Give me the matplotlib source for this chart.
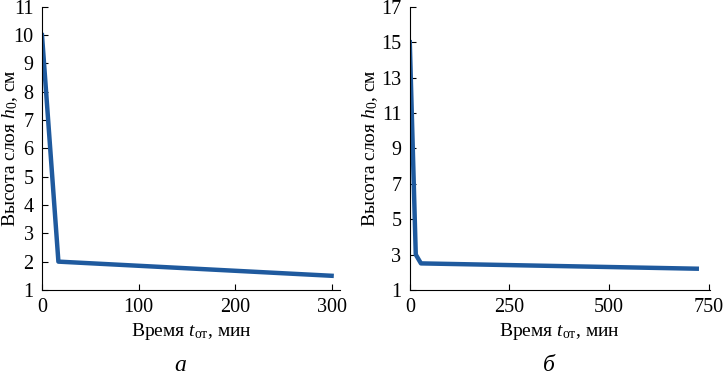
import matplotlib
matplotlib.use("Agg")
import matplotlib.pyplot as plt

# panel a
time_a = [0, 17, 300]
height_a = [10.0, 2.0, 1.5]
# panel b
time_b = [0, 15, 28, 720]
height_b = [15.0, 3.0, 2.5, 2.2]

xticks_a = [0, 100, 200, 300]
yticks_a = list(range(1, 12))
xticks_b = [0, 250, 500, 750]
yticks_b = list(range(1, 18, 2))

plt.rcParams['font.family'] = ['Liberation Serif', 'DejaVu Serif']
plt.rcParams['mathtext.fontset'] = 'custom'
plt.rcParams['mathtext.rm'] = 'Liberation Serif'
plt.rcParams['mathtext.it'] = 'Liberation Serif:italic'

LINE = '#1f5a9e'

fig = plt.figure(figsize=(7.24, 3.79), dpi=100)
ax1 = fig.add_axes([0.058, 0.235, 0.412, 0.747])
ax2 = fig.add_axes([0.566, 0.235, 0.414, 0.747])


def style(ax, xt, yt, xmax, ymin, ymax, ylab_x):
    ax.set_xlim(0, xmax)
    ax.set_ylim(ymin, ymax)
    ax.set_xticks(xt)
    ax.set_yticks(yt)
    ax.spines['top'].set_visible(False)
    ax.spines['right'].set_visible(False)
    ax.tick_params(direction='in', length=4, width=0.8, labelsize=14.5, pad=6)
    ax.set_xlabel(r'Время $t_{\mathrm{от}}$, мин', fontsize=14)
    ax.xaxis.set_label_coords(0.5, -0.11)
    ax.set_ylabel(r'Высота слоя $h_0$, см', fontsize=14)
    ax.yaxis.set_label_coords(ylab_x, 0.5)


ax1.plot(time_a, height_a, color=LINE, lw=3.2, solid_joinstyle='round')
style(ax1, xticks_a, yticks_a, 309, 1, 11, -0.074)

ax2.plot(time_b, height_b, color=LINE, lw=3.2, solid_joinstyle='round')
style(ax2, xticks_b, yticks_b, 752, 1, 17, -0.10)

fig.text(0.249, 0.022, 'а', fontsize=17, style='italic', ha='center')
fig.text(0.758, 0.022, 'б', fontsize=17, style='italic', ha='center')

fig.savefig('out.png', dpi=100)
